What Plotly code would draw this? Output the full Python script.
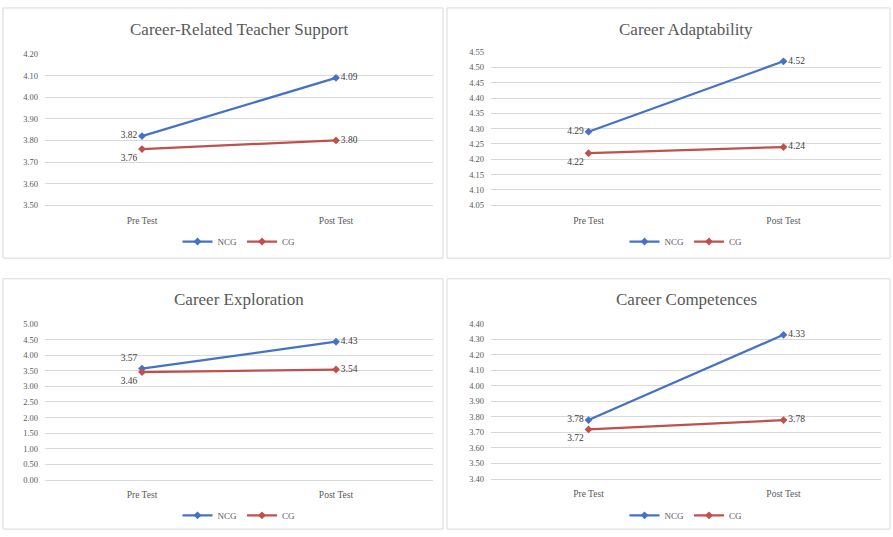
import plotly.graph_objects as go

categories = ["Pre Test", "Post Test"]
series_names = ["NCG", "CG"]

titles = ["Career-Related Teacher Support", "Career Adaptability",
          "Career Exploration", "Career Competences"]

ncg_values = [[3.82, 4.09], [4.29, 4.52], [3.57, 4.43], [3.78, 4.33]]
cg_values = [[3.76, 3.80], [4.22, 4.24], [3.46, 3.54], [3.72, 3.78]]

y_ranges = [[3.50, 4.20], [4.05, 4.55], [0.00, 5.00], [3.40, 4.40]]
y_dticks = [0.10, 0.05, 0.50, 0.10]

W, H = 893, 537
FONT = "Liberation Serif"
BLUE = "#4472C4"
RED = "#C0504D"
GRID = "#D9D9D9"
TXT = "#595959"

# panel layout in pixels: (x0, x1, ytop, ybottom) of plot area, panel box
plot_px = [(45, 433, 50, 204), (491, 881, 48, 204), (45, 433, 325, 484), (491, 881, 325, 483)]
box_px = [(3, 443, 3, 258), (447, 890, 3, 258), (3, 443, 279, 534), (447, 890, 279, 534)]
title_y = [25, 25, 300, 300]
legend_y = [241, 241, 520, 520]

fig = go.Figure()

ncg_pos = [["middle left", "middle right"], ["middle left", "middle right"],
           ["top left", "middle right"], ["middle left", "middle right"]]
cg_pos = [["bottom left", "middle right"], ["bottom left", "middle right"],
          ["bottom left", "middle right"], ["bottom left", "middle right"]]

for i in range(4):
    ax = "" if i == 0 else str(i + 1)
    leg = "legend" if i == 0 else f"legend{i+1}"
    for name, vals, col, pos in [("NCG", ncg_values[i], BLUE, ncg_pos[i]),
                                 ("CG", cg_values[i], RED, cg_pos[i])]:
        fig.add_trace(go.Scatter(
            x=categories, y=vals, name=name, mode="lines+markers+text",
            text=[f"{v:.2f}" for v in vals], textposition=pos,
            textfont=dict(family=FONT, size=9.5, color="#404040"),
            line=dict(color=col, width=2.25), marker=dict(color=col, size=6, symbol="diamond"),
            xaxis="x" + ax, yaxis="y" + ax, legend=leg, cliponaxis=False,
        ))
    x0, x1, yt, yb = plot_px[i]
    fig.layout["xaxis" + ax] = dict(
        domain=[x0 / W, x1 / W], anchor="y" + ax, range=[-0.5, 1.5],
        showgrid=False, zeroline=False, showline=True, linecolor=GRID,
        tickfont=dict(family=FONT, size=9.5, color=TXT), ticks="", fixedrange=True,
        ticklabelstandoff=6,
    )
    fig.layout["yaxis" + ax] = dict(
        domain=[1 - yb / H, 1 - yt / H], anchor="x" + ax, range=y_ranges[i],
        dtick=y_dticks[i], tick0=y_ranges[i][0], tickformat=".2f",
        showgrid=True, gridcolor=GRID, gridwidth=1, zeroline=False, showline=False,
        tickfont=dict(family=FONT, size=8.5, color=TXT), ticks="", fixedrange=True,
        ticklabelstandoff=6,
    )
    bx0, bx1, by0, by1 = box_px[i]
    fig.add_shape(type="rect", xref="paper", yref="paper",
                  x0=bx0 / W, x1=bx1 / W, y0=1 - by1 / H, y1=1 - by0 / H,
                  line=dict(color="#D9D9D9", width=1))
    fig.add_annotation(text=titles[i], xref="paper", yref="paper",
                       x=(x0 + x1) / 2 / W, y=1 - title_y[i] / H, showarrow=False,
                       xanchor="center", yanchor="middle",
                       font=dict(family=FONT, size=17, color="#595959"))
    fig.layout[leg] = dict(
        orientation="h", x=(x0 + x1) / 2 / W, y=1 - legend_y[i] / H,
        xanchor="center", yanchor="middle", bgcolor="rgba(0,0,0,0)",
        font=dict(family=FONT, size=9, color=TXT), itemwidth=30,
    )

fig.update_layout(
    width=W, height=H, margin=dict(l=0, r=0, t=0, b=0),
    paper_bgcolor="white", plot_bgcolor="white", showlegend=True,
)

fig.write_html("out.html", config={"displayModeBar": False},
               post_script="document.body.style.margin='0';document.body.style.overflow='hidden';")
